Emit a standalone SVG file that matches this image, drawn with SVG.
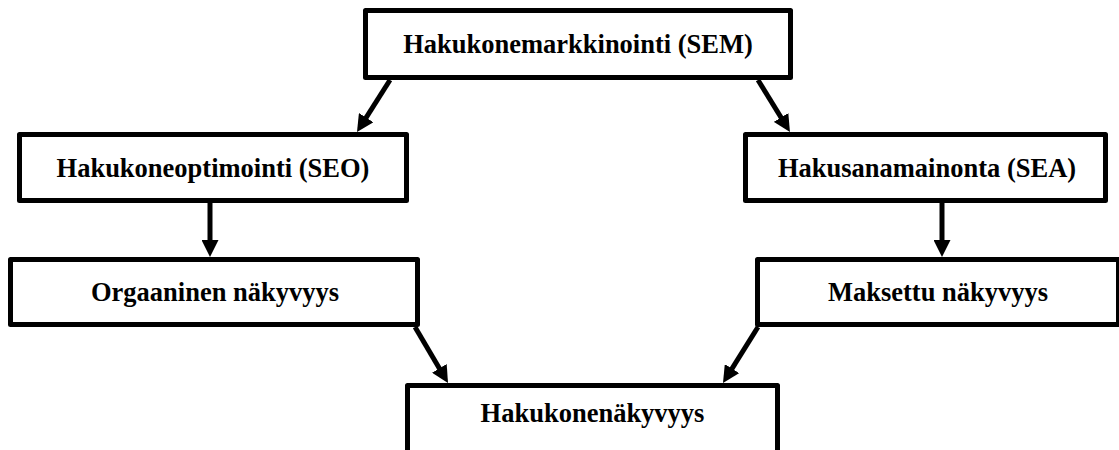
<svg xmlns="http://www.w3.org/2000/svg" width="1119" height="450" viewBox="0 0 1119 450">
<style>
.box{fill:#fff;stroke:#000;stroke-width:5;stroke-linejoin:round}
.lbl{font-weight:bold;font-size:26.5px;fill:#000;text-anchor:middle}
.edge{stroke:#000;stroke-width:5;fill:none;marker-end:url(#ah)}
</style>
<defs>
<marker id="ah" viewBox="0 0 17 17" refX="10" refY="8.5" markerWidth="17" markerHeight="17" markerUnits="userSpaceOnUse" orient="auto">
<path d="M0,0 L17,8.5 L0,17 z" fill="#000"/>
</marker>
</defs>
<rect width="1119" height="450" fill="#fff"/>
<g id="connectors">
<line class="edge" x1="390" y1="80" x2="360.75" y2="126.1"/>
<line class="edge" x1="758" y1="80" x2="786.3" y2="126"/>
<line class="edge" x1="210" y1="203" x2="210" y2="250"/>
<line class="edge" x1="942" y1="203" x2="942" y2="250"/>
<line class="edge" x1="415" y1="327" x2="444.45" y2="376.97"/>
<line class="edge" x1="758" y1="327" x2="726.7" y2="377.06"/>
</g>
<g id="sem">
<rect class="box" x="365.5" y="10.5" width="425" height="67"/>
<text class="lbl" font-family="Liberation Serif, DejaVu Serif, serif" x="578" y="53">Hakukonemarkkinointi (SEM)</text>
</g>
<g id="seo">
<rect class="box" x="19.5" y="134.5" width="387" height="66"/>
<text class="lbl" font-family="Liberation Serif, DejaVu Serif, serif" x="213" y="176.5">Hakukoneoptimointi (SEO)</text>
</g>
<g id="sea">
<rect class="box" x="745.5" y="134.5" width="360" height="66"/>
<text class="lbl" font-family="Liberation Serif, DejaVu Serif, serif" x="927" y="176.5">Hakusanamainonta (SEA)</text>
</g>
<g id="orgaaninen">
<rect class="box" x="10.5" y="259.5" width="407" height="65"/>
<text class="lbl" font-family="Liberation Serif, DejaVu Serif, serif" x="215" y="301">Orgaaninen näkyvyys</text>
</g>
<g id="maksettu">
<rect class="box" x="757.5" y="259.5" width="361" height="65"/>
<text class="lbl" font-family="Liberation Serif, DejaVu Serif, serif" x="938" y="301">Maksettu näkyvyys</text>
</g>
<g id="hakukonenakyvyys">
<rect class="box" x="407.5" y="385.5" width="370" height="70"/>
<text class="lbl" font-family="Liberation Serif, DejaVu Serif, serif" x="592.5" y="422">Hakukonenäkyvyys</text>
</g>
</svg>
